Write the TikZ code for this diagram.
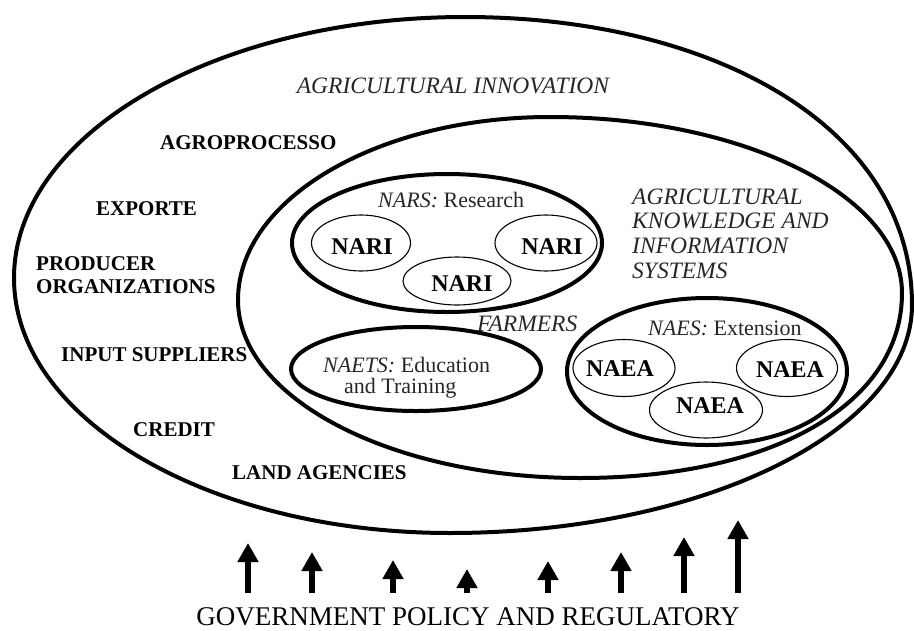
\documentclass[tikz,border=0pt]{standalone}
\usepackage{fontspec}
\setmainfont{Liberation Serif}
\usetikzlibrary{shapes.geometric,arrows.meta}

\tikzset{
  ringline/.style={draw, line width=4pt},
  ring/.style={ringline, ellipse, inner sep=0pt},
  unitring/.style={draw, ellipse, line width=1.1pt, inner sep=0pt},
  unitname/.style={font=\fontsize{24}{26}\selectfont\bfseries, inner sep=0pt},
  actor/.style={font=\fontsize{21}{23}\selectfont\bfseries, anchor=base west, inner sep=0pt},
  sysname/.style={font=\fontsize{23.5}{25}\selectfont\itshape, text=black!85, anchor=base west, inner sep=0pt},
  subname/.style={font=\fontsize{22}{24}\selectfont, text=black!85, anchor=base west, inner sep=0pt},
  policyarrow/.style={line width=6pt, -{Triangle[width=20pt,length=19pt]}}
}

\begin{document}
\begin{tikzpicture}[x=1pt,y=-1pt]
\useasboundingbox (0,0) rectangle (914,630);

% agricultural innovation system: a rounded oval, fuller towards the right
\coordinate (aisT) at (465,17);
\coordinate (aisR) at (912,305);
\coordinate (aisB) at (450,533);
\coordinate (aisL) at (14,278);
\draw[ringline] (aisT) .. controls (712,17) and (912,126) .. (aisR)
  .. controls (912,430) and (704,533) .. (aisB)
  .. controls (209,533) and (14,419) .. (aisL)
  .. controls (14,134) and (216,17) .. (aisT) -- cycle;

% knowledge and information system
\coordinate (akisT) at (550,117);
\coordinate (akisR) at (902,293);
\coordinate (akisB) at (580,478);
\coordinate (akisL) at (238,300);
\draw[ringline] (akisT) .. controls (744,117) and (902,196) .. (akisR)
  .. controls (902,404) and (773,478) .. (akisB)
  .. controls (391,478) and (238,398) .. (akisL)
  .. controls (238,199) and (378,117) .. (akisT) -- cycle;

% research, education and extension subsystems
\node[ring, minimum width=310pt, minimum height=138pt] (nars) at (447,243) {};
\node[ring, minimum width=250pt, minimum height=84pt] (naets) at (416,369) {};
\node[ring, minimum width=280pt, minimum height=147pt] (naes) at (707,371.5) {};

% research institutes
\node[unitring, minimum width=99pt, minimum height=56pt] (nari1) at (361,243) {};
\node[unitring, minimum width=102pt, minimum height=56pt] (nari2) at (546,243) {};
\node[unitring, minimum width=108pt, minimum height=48pt] (nari3) at (457,281) {};
\node[unitname] (nari1t) at (362,247) {NARI};
\node[unitname] (nari2t) at (552,247) {NARI};
\node[unitname] (nari3t) at (462,284) {NARI};

% extension agencies
\node[unitring, minimum width=102pt, minimum height=57pt] (naea1) at (624,368) {};
\node[unitring, minimum width=101pt, minimum height=57pt] (naea2) at (787,368) {};
\node[unitring, minimum width=113pt, minimum height=56pt] (naea3) at (706,410) {};
\node[unitname] (naea1t) at (620,369) {NAEA};
\node[unitname] (naea2t) at (790,370) {NAEA};
\node[unitname] (naea3t) at (710,406) {NAEA};

% system titles
\node[sysname, anchor=base] (aitl) at (453,93) {AGRICULTURAL INNOVATION};
\node[sysname] (akis1) at (632,204) {AGRICULTURAL};
\node[sysname] (akis2) at (632,228) {KNOWLEDGE AND};
\node[sysname] (akis3) at (632,253) {INFORMATION};
\node[sysname] (akis4) at (632,278) {SYSTEMS};
\node[sysname] (farm) at (477,331) {FARMERS};
\node[subname] (narst) at (378,207) {\textit{NARS:} Research};
\node[subname] (naest) at (648,335) {\textit{NAES:} Extension};
\node[subname] (naets1) at (323,372) {\textit{NAETS:} Education};
\node[subname] (naets2) at (344,393) {and Training};

% actors of the innovation system
\node[actor] (agro) at (160,149) {AGROPROCESSO};
\node[actor] (expo) at (96,215) {EXPORTE};
\node[actor] (prod1) at (36,270) {PRODUCER};
\node[actor] (prod2) at (36,293) {ORGANIZATIONS};
\node[actor] (input) at (61,361) {INPUT SUPPLIERS};
\node[actor] (credit) at (133,436) {CREDIT};
\node[actor] (land) at (232,479) {LAND AGENCIES};

% policy pressure from below
\foreach \i/\x/\tip in {1/248/543, 2/312/552, 3/393/560, 4/467/569, 5/548/561, 6/621/552, 7/684/537, 8/738/520} {
  \coordinate (p\i) at (\x,593);
  \coordinate (q\i) at (\x,\tip);
  \draw[policyarrow] (p\i) -- (q\i);
}
\node[font=\fontsize{27}{29}\selectfont, anchor=base, inner sep=0pt] (gov) at (468,625) {GOVERNMENT POLICY AND REGULATORY};
\end{tikzpicture}
\end{document}
